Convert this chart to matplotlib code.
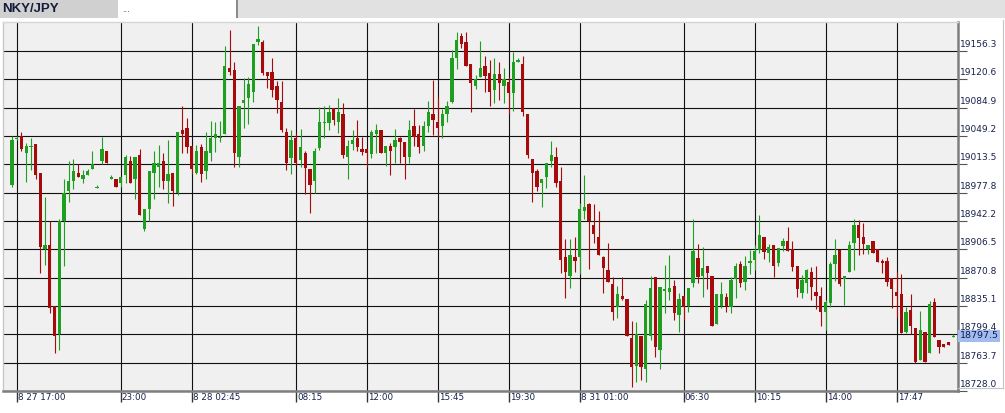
import numpy as np
import matplotlib
matplotlib.use("Agg")
import matplotlib.pyplot as plt
from matplotlib.patches import Rectangle
from matplotlib.lines import Line2D

# 15 min candles, NKY/JPY
opens = [
    18988, 19046, 19049, 19028, 19035, 19039, 19003, 18907, 18912, 18835,
    18800, 18942, 18980, 18993, 19003, 18995, 19000, 19008, 18984, 19018,
    19030, 18995, 18995, 18990, 19000, 19018, 18995, 19025, 18932, 18957,
    19003, 19010, 19018, 18993, 19003, 18978, 19057, 19059, 19037, 19003,
    19035, 19005, 19028, 19047, 19047, 19052, 19135, 19133, 19023, 19091,
    19097, 19105, 19168, 19168, 19130, 19130, 19112, 19092, 19054, 19022,
    19047, 19019, 19028, 19008, 18993, 19034, 19066, 19066, 19085, 19067,
    19077, 19023, 19039, 19047, 19033, 19033, 19027, 19052, 19057, 19028,
    19037, 19036, 19047, 19042, 19023, 19062, 19052, 19037, 19062, 19077,
    19067, 19062, 19077, 19092, 19148, 19175, 19168, 19140, 19112, 19124,
    19138, 19129, 19107, 19128, 19112, 19117, 19103, 19143, 19140, 19077,
    19020, 19005, 18990, 18998, 19018, 19023, 18993, 18897, 18873, 18897,
    18897, 18955, 18964, 18937, 18922, 18897, 18880, 18863, 18834, 18848,
    18844, 18795, 18759, 18797, 18756, 18797, 18872, 18780, 18854, 18853,
    18860, 18824, 18848, 18835, 18864, 18896, 18873, 18886, 18873, 18812,
    18835, 18847, 18834, 18869, 18888, 18865, 18889, 18893, 18906, 18922,
    18902, 18912, 18889, 18911, 18917, 18907, 18886, 18852, 18864, 18878,
    18853, 18848, 18828, 18839, 18888, 18906, 18869, 18878, 18915, 18937,
    18922, 18907, 18917, 18907, 18892, 18892, 18870, 18853, 18850, 18802,
    18830, 18807, 18767, 18802, 18776, 18840, 18792, 18787, 18790, 18796,
]
highs = [
    19049, 19049, 19054, 19041, 19047, 19039, 19003, 18973, 18942, 18835,
    18945, 18995, 19018, 19020, 19014, 19007, 19008, 19030, 18988, 19048,
    19030, 19000, 18995, 18998, 19025, 19024, 19023, 19033, 18957, 19005,
    19030, 19038, 19028, 19044, 19003, 19054, 19087, 19072, 19037, 19038,
    19039, 19054, 19068, 19067, 19068, 19163, 19183, 19143, 19087, 19122,
    19124, 19165, 19188, 19170, 19130, 19148, 19119, 19119, 19059, 19057,
    19053, 19058, 19030, 19008, 19034, 19086, 19087, 19088, 19085, 19097,
    19091, 19044, 19057, 19070, 19048, 19033, 19057, 19064, 19057, 19037,
    19041, 19058, 19048, 19042, 19070, 19083, 19063, 19068, 19093, 19120,
    19098, 19083, 19093, 19158, 19180, 19179, 19180, 19140, 19126, 19169,
    19150, 19145, 19148, 19143, 19135, 19124, 19155, 19148, 19150, 19077,
    19020, 19008, 18995, 19015, 19043, 19035, 19010, 18920, 18920, 18922,
    18965, 19000, 18965, 18964, 18955, 18898, 18914, 18872, 18860, 18872,
    18844, 18816, 18815, 18797, 18843, 18873, 18872, 18859, 18887, 18899,
    18868, 18852, 18848, 18858, 18945, 18913, 18910, 18886, 18873, 18850,
    18865, 18852, 18872, 18889, 18892, 18898, 18906, 18912, 18950, 18922,
    18913, 18912, 18908, 18921, 18935, 18917, 18886, 18874, 18882, 18884,
    18886, 18859, 18843, 18891, 18920, 18906, 18873, 18917, 18945, 18943,
    18940, 18912, 18917, 18907, 18894, 18897, 18870, 18879, 18876, 18834,
    18850, 18807, 18829, 18802, 18841, 18845, 18792, 18787, 18790, 18800,
]
lows = [
    18985, 19044, 19030, 18991, 19007, 18995, 18877, 18887, 18826, 18776,
    18780, 18886, 18966, 18983, 18998, 18990, 19000, 19008, 18984, 19014,
    19015, 18995, 18985, 18985, 18990, 18990, 18970, 18950, 18930, 18942,
    18970, 18985, 18983, 18965, 18961, 18975, 19028, 19028, 19002, 19002,
    18991, 18995, 19018, 19029, 19042, 19052, 19126, 19010, 19010, 19059,
    19064, 19092, 19164, 19126, 19110, 19099, 19078, 19054, 19007, 19001,
    19013, 19010, 18976, 18952, 18978, 19032, 19047, 19057, 19063, 19053,
    19022, 18995, 19032, 19030, 19025, 19010, 19022, 19028, 19028, 19012,
    19000, 19015, 19015, 18995, 19015, 19037, 19028, 19030, 19054, 19051,
    19048, 19047, 19067, 19091, 19134, 19160, 19138, 19080, 19109, 19124,
    19105, 19087, 19091, 19095, 19091, 19077, 19081, 19143, 19075, 19022,
    18966, 18980, 18960, 18984, 19010, 18985, 18877, 18845, 18858, 18878,
    18875, 18945, 18882, 18914, 18899, 18852, 18865, 18817, 18820, 18843,
    18797, 18733, 18739, 18742, 18739, 18792, 18771, 18756, 18826, 18843,
    18817, 18802, 18817, 18828, 18859, 18864, 18847, 18857, 18810, 18812,
    18833, 18828, 18826, 18845, 18859, 18855, 18875, 18880, 18902, 18894,
    18891, 18872, 18886, 18904, 18904, 18879, 18846, 18845, 18852, 18843,
    18831, 18810, 18805, 18834, 18867, 18860, 18836, 18878, 18880, 18899,
    18901, 18901, 18902, 18891, 18877, 18860, 18833, 18821, 18801, 18801,
    18800, 18763, 18767, 18765, 18776, 18796, 18776, 18784, 18786, 18796,
]
closes = [
    19044, 19047, 19033, 19037, 19037, 19000, 18909, 18912, 18833, 18797,
    18942, 18978, 18993, 19005, 18998, 19000, 19005, 19014, 18985, 19033,
    19015, 18998, 18985, 18998, 19023, 18990, 19023, 18950, 18957, 19005,
    19015, 19015, 18993, 19002, 18980, 19054, 19052, 19035, 19008, 19030,
    19002, 19030, 19047, 19052, 19048, 19138, 19130, 19028, 19087, 19095,
    19115, 19165, 19172, 19129, 19125, 19107, 19095, 19057, 19015, 19044,
    19015, 19036, 19009, 18988, 19030, 19067, 19067, 19080, 19070, 19080,
    19025, 19037, 19044, 19036, 19029, 19028, 19054, 19057, 19028, 19037,
    19030, 19044, 19042, 19023, 19057, 19048, 19036, 19062, 19080, 19070,
    19059, 19077, 19087, 19148, 19170, 19165, 19138, 19116, 19121, 19135,
    19125, 19105, 19128, 19116, 19121, 19103, 19143, 19145, 19080, 19025,
    19003, 18985, 18995, 19015, 19025, 18990, 18893, 18878, 18899, 18892,
    18957, 18960, 18942, 18926, 18899, 18883, 18865, 18828, 18850, 18844,
    18797, 18758, 18800, 18758, 18838, 18858, 18783, 18859, 18857, 18858,
    18826, 18844, 18834, 18858, 18904, 18872, 18883, 18877, 18810, 18850,
    18850, 18835, 18868, 18886, 18864, 18886, 18892, 18904, 18925, 18903,
    18910, 18886, 18908, 18917, 18904, 18884, 18857, 18868, 18880, 18859,
    18848, 18828, 18840, 18888, 18899, 18863, 18873, 18912, 18937, 18921,
    18913, 18912, 18902, 18891, 18889, 18865, 18857, 18848, 18801, 18828,
    18810, 18765, 18805, 18765, 18838, 18796, 18784, 18784, 18786, 18797.5,
]

price_ticks = [18728.0, 18763.7, 18799.4, 18835.1, 18870.8, 18906.5, 18942.2,
               18977.8, 19013.5, 19049.2, 19084.9, 19120.6, 19156.3]
time_pos = [1, 23, 38, 60, 75, 90, 105, 120, 142, 157, 172, 187]
time_labels = ["8 27 17:00", "23:00", "8 28 02:45", "08:15", "12:00", "15:45",
               "19:30", "8 31 01:00", "06:30", "10:15", "14:00", "17:47"]
last_price = 18797.5

W, H = 1005, 413
GREEN = "#1f9f1f"
RED = "#a60a0a"
TXT = "#17224d"

fig = plt.figure(figsize=(W / 100, H / 100), dpi=100)
fig.patch.set_facecolor("white")

def box(x0, y0, w, h):
    # pixel box (top-left origin) -> figure fraction rect
    return (x0 / W, 1 - (y0 + h) / H), w / W, h / H

# tab bar on top
for (x0, w, fc) in [(0, 118, "#d0d0d0"), (119, 117, "white"), (236, 2, "#8a8a8a"), (238, 767, "#e1e1e1")]:
    xy, ww, hh = box(x0, 0, w, 18)
    fig.patches.append(Rectangle(xy, ww, hh, transform=fig.transFigure, fc=fc, ec="none"))
fig.text(2 / W, 1 - 9.5 / H, "NKY/JPY", fontsize=9.5, fontweight="bold", family="Liberation Sans",
         color="#141c3c", va="center", ha="left")
fig.text(122 / W, 1 - 10 / H, "...", fontsize=6, color="#b00000", va="center", ha="left")

# right label panel border
fig.add_artist(Line2D([1003 / W, 1003 / W], [1 - 388 / H, 1 - 20 / H], color="#c4c4c4", lw=0.8))
fig.add_artist(Line2D([958 / W, 1003 / W], [1 - 388 / H, 1 - 388 / H], color="#c4c4c4", lw=0.8))

ax = fig.add_axes([3 / W, (H - 391) / H, 955 / W, 369 / H])
ax.set_facecolor("#f0f0f0")

x = np.arange(len(opens))
o = np.array(opens, dtype=float)
c = np.array(closes, dtype=float)
col = np.where(c >= o, GREEN, RED)

ax.vlines(x, lows, highs, colors=col, lw=0.8, zorder=3)
body_lo = np.minimum(o, c)
body_h = np.maximum(np.abs(c - o), 1.4)
ax.bar(x, body_h, bottom=body_lo, width=0.7, color=col, lw=0, zorder=4)

ax.set_xlim(-1.9, 200.0)
ax.set_ylim(18728.0, 19193.0)

ax.set_yticks(price_ticks)
ax.set_xticks(time_pos)
ax.grid(True, color="#111111", lw=0.8, zorder=1)
ax.set_axisbelow(True)
ax.yaxis.tick_right()
ax.tick_params(axis="y", right=True, left=False, length=6.5, width=0.8, color="#555555",
               labelright=False, labelleft=False)
ax.tick_params(axis="x", bottom=True, length=8, width=1.0, color="#333333", labelbottom=False)

for side, (ccol, lw) in {"left": ("#c8c8c8", 1.0), "top": ("#d6d6d6", 1.0),
                         "right": ("#7e7e7e", 1.8), "bottom": ("#7e7e7e", 1.8)}.items():
    ax.spines[side].set_color(ccol)
    ax.spines[side].set_linewidth(lw)

# price labels above each grid line
for v in price_ticks:
    ax.annotate(f"{v:.1f}", xy=(1, v), xycoords=("axes fraction", "data"),
                xytext=(1.5, 3), textcoords="offset points", ha="left", va="baseline",
                fontsize=6.5, color=TXT, annotation_clip=False)

# time labels below the axis
for p, lbl in zip(time_pos, time_labels):
    ax.annotate(lbl, xy=(p, 0), xycoords=("data", "axes fraction"),
                xytext=(0.8, -1.8), textcoords="offset points", ha="left", va="top",
                fontsize=6.3, color=TXT, annotation_clip=False)

# last price tag
ax.annotate(f"{last_price:.1f}", xy=(1, last_price), xycoords=("axes fraction", "data"),
            xytext=(1.2, 0), textcoords="offset points", ha="left", va="center",
            fontsize=6.8, color="#0c1a4e", annotation_clip=False,
            bbox=dict(boxstyle="square,pad=0.18", fc="#a3bcf0", ec="none"))

fig.savefig("out.png", dpi=100, facecolor="white")
